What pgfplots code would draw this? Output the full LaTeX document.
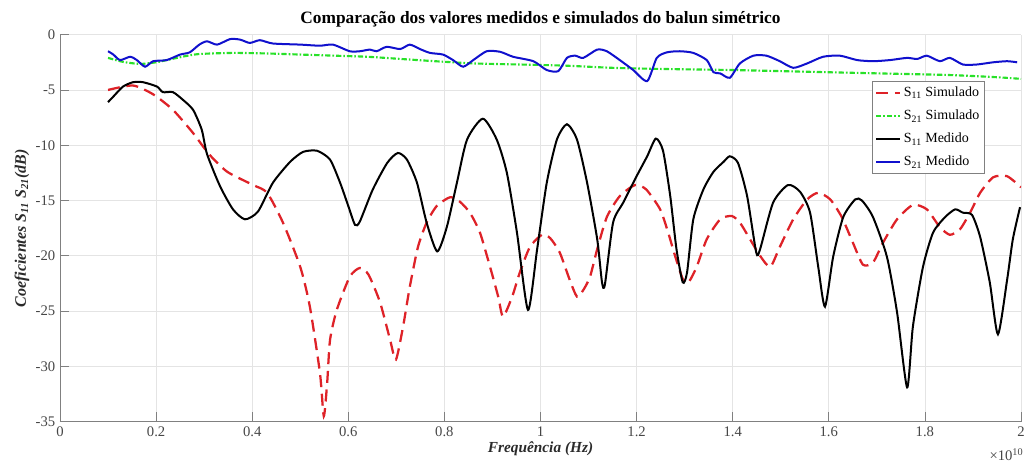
\documentclass[border=0pt]{standalone}
\usepackage{fontspec}
\setmainfont{Liberation Serif}
\usepackage{pgfplots}
\pgfplotsset{compat=1.18}
\definecolor{axgray}{RGB}{128,128,128}
\definecolor{txtgray}{RGB}{70,70,70}
\definecolor{gridgray}{RGB}{228,228,228}
\definecolor{simred}{RGB}{222,34,40}
\definecolor{simgreen}{RGB}{40,225,40}
\definecolor{medblue}{RGB}{16,16,205}

\begin{document}
\begin{tikzpicture}
\useasboundingbox (-45pt,-36pt) rectangle (725.25pt,316.25pt);
\begin{axis}[
  name=ax,
  scale only axis,
  width=720.75pt, height=290.25pt,
  xmin=0, xmax=2, ymin=-35, ymax=0,
  xtick={0,0.2,...,2.01}, ytick={-35,-30,...,0},
  axis lines*=left,
  axis line style={axgray, line width=0.6pt},
  tick style={axgray, line width=0.6pt},
  tick align=inside, major tick length=7pt,
  grid=major,
  grid style={gridgray, line width=0.5pt},
  /pgf/number format/assume math mode=true,
  ticklabel style={font=\fontsize{11}{13}\selectfont, text=txtgray},
  title={\textbf{Comparação dos valores medidos e simulados do balun simétrico}},
  title style={font=\fontsize{13}{15}\selectfont, yshift=-4pt},
  xlabel={\textbf{\textit{Frequência (Hz)}}},
  ylabel={\textbf{\textit{Coeficientes S\textsubscript{11} S\textsubscript{21}(dB)}}},
  xlabel style={font=\fontsize{11.5}{13}\selectfont, text=txtgray!60!black, yshift=3pt},
  ylabel style={font=\fontsize{12}{14}\selectfont, text=txtgray!60!black, yshift=-2pt},
  legend style={at={(rel axis cs:0.9625,0.879)}, anchor=north east,
    draw=axgray, fill=white, font=\fontsize{10.5}{12}\selectfont,
    inner sep=2pt, row sep=4.5pt},
  legend cell align=left,
  legend image code/.code={\draw[#1] (0pt,0pt) -- (18pt,0pt);},
  every axis plot/.append style={smooth, tension=0.4},
]
\addplot[simred, line width=1.7pt, dash pattern=on 9pt off 5pt] coordinates {
(0.1,-5.0)(0.152,-4.6)(0.194,-5.4)(0.235,-6.8)(0.277,-8.9)(0.31,-10.8)(0.348,-12.4)
(0.402,-13.6)(0.431,-14.3)(0.464,-17.0)(0.5,-21.0)(0.52,-24.6)(0.541,-30.6)(0.549,-34.5)
(0.556,-31.5)(0.562,-27.6)(0.576,-24.9)(0.603,-21.9)(0.624,-21.1)(0.642,-21.7)(0.666,-24.2)
(0.687,-27.6)(0.699,-29.4)(0.714,-26.4)(0.728,-22.8)(0.745,-19.2)(0.763,-17.0)(0.784,-15.5)
(0.812,-14.7)(0.832,-15.1)(0.853,-16.1)(0.874,-17.9)(0.895,-21.0)(0.912,-23.7)(0.922,-25.5)
(0.941,-23.7)(0.957,-21.5)(0.978,-19.2)(1.003,-18.1)(1.02,-18.4)(1.04,-19.7)(1.061,-22.2)
(1.076,-23.7)(1.089,-23.1)(1.103,-21.9)(1.118,-19.4)(1.138,-16.5)(1.165,-14.6)(1.197,-13.6)
(1.22,-14.0)(1.249,-15.8)(1.265,-17.8)(1.28,-20.0)(1.297,-22.2)(1.308,-22.4)(1.325,-21.0)
(1.346,-18.5)(1.374,-16.7)(1.398,-16.4)(1.415,-17.0)(1.436,-18.5)(1.457,-20.0)(1.478,-21.0)
(1.498,-19.2)(1.526,-16.7)(1.555,-14.9)(1.578,-14.3)(1.603,-14.9)(1.627,-16.5)(1.65,-18.8)
(1.671,-20.8)(1.692,-20.6)(1.713,-18.8)(1.742,-16.7)(1.775,-15.4)(1.804,-15.8)(1.831,-17.4)
(1.852,-18.1)(1.873,-17.6)(1.894,-16.1)(1.915,-14.3)(1.942,-12.9)(1.971,-12.8)(2.0,-13.8)
};
\addlegendentry{S\textsubscript{11} Simulado}
\addplot[simgreen, line width=1.6pt, dash pattern=on 4pt off 1.5pt on 1.2pt off 1.5pt] coordinates {
(0.1,-2.1)(0.13,-2.45)(0.166,-2.65)(0.2,-2.5)(0.222,-2.3)(0.26,-1.95)(0.29,-1.75)(0.36,-1.65)
(0.43,-1.7)(0.5,-1.8)(0.57,-1.9)(0.64,-2.0)(0.71,-2.2)(0.78,-2.4)(0.86,-2.6)(0.957,-2.7)
(1.05,-2.8)(1.15,-3.0)(1.25,-3.1)(1.4,-3.2)(1.55,-3.35)(1.7,-3.5)(1.85,-3.65)(1.95,-3.85)(2.0,-4.0)
};
\addlegendentry{S\textsubscript{21} Simulado}
\addplot[black, line width=1.5pt] coordinates {
(0.1,-6.1)(0.111,-5.6)(0.131,-4.7)(0.152,-4.3)(0.173,-4.3)(0.202,-4.7)(0.214,-5.2)(0.235,-5.2)
(0.256,-5.9)(0.277,-6.8)(0.295,-8.6)(0.306,-10.8)(0.333,-13.7)(0.36,-15.8)(0.385,-16.7)
(0.412,-16.0)(0.443,-13.4)(0.479,-11.5)(0.506,-10.6)(0.535,-10.5)(0.562,-11.3)(0.583,-13.4)
(0.6,-15.5)(0.614,-17.2)(0.624,-16.9)(0.651,-14.0)(0.681,-11.6)(0.703,-10.7)(0.722,-11.3)
(0.743,-13.4)(0.763,-17.0)(0.785,-19.6)(0.805,-17.4)(0.826,-13.4)(0.847,-9.5)(0.88,-7.6)
(0.909,-9.5)(0.93,-12.5)(0.951,-17.9)(0.974,-24.9)(0.993,-19.4)(1.013,-13.4)(1.034,-9.5)
(1.055,-8.1)(1.076,-9.5)(1.097,-13.4)(1.118,-18.5)(1.128,-22.4)(1.134,-22.6)(1.151,-17.0)
(1.172,-15.2)(1.2,-12.8)(1.222,-11.0)(1.24,-9.4)(1.255,-10.5)(1.27,-14.6)(1.283,-19.4)
(1.296,-22.4)(1.305,-21.5)(1.318,-16.7)(1.339,-14.0)(1.36,-12.4)(1.381,-11.5)(1.394,-11.0)
(1.411,-11.6)(1.43,-14.6)(1.449,-19.7)(1.457,-19.4)(1.484,-15.2)(1.515,-13.6)(1.54,-14.2)
(1.561,-16.1)(1.578,-21.0)(1.592,-24.6)(1.609,-20.1)(1.63,-16.5)(1.655,-14.9)(1.669,-15.0)
(1.692,-16.5)(1.721,-20.1)(1.742,-25.1)(1.763,-31.9)(1.775,-26.4)(1.796,-21.0)(1.817,-17.9)
(1.842,-16.5)(1.863,-15.8)(1.879,-16.1)(1.898,-16.3)(1.915,-18.3)(1.935,-22.4)(1.952,-27.1)
(1.971,-22.2)(1.983,-18.5)(1.998,-15.6)
};
\addlegendentry{S\textsubscript{11} Medido}
\addplot[medblue, line width=1.5pt] coordinates {
(0.1,-1.5)(0.111,-1.8)(0.125,-2.3)(0.146,-2.0)(0.16,-2.3)(0.177,-2.9)(0.194,-2.4)(0.222,-2.3)
(0.25,-1.8)(0.27,-1.6)(0.29,-0.9)(0.306,-0.6)(0.327,-0.9)(0.354,-0.4)(0.375,-0.45)(0.395,-0.75)
(0.416,-0.5)(0.443,-0.8)(0.5,-0.9)(0.541,-1.0)(0.568,-0.9)(0.603,-1.5)(0.624,-1.5)(0.645,-1.35)
(0.659,-1.5)(0.68,-1.1)(0.708,-1.3)(0.728,-0.9)(0.749,-1.3)(0.77,-1.65)(0.797,-1.8)(0.818,-2.3)
(0.839,-2.9)(0.86,-2.3)(0.888,-1.5)(0.916,-1.55)(0.943,-2.0)(0.985,-2.4)(1.013,-3.2)(1.037,-3.3)
(1.055,-2.1)(1.072,-1.9)(1.089,-2.1)(1.118,-1.35)(1.138,-1.5)(1.165,-2.3)(1.193,-3.2)(1.222,-4.2)
(1.242,-2.1)(1.263,-1.6)(1.29,-1.5)(1.318,-1.65)(1.346,-2.3)(1.36,-3.4)(1.374,-3.5)(1.394,-3.9)
(1.415,-2.6)(1.443,-1.9)(1.47,-1.9)(1.498,-2.4)(1.526,-3.0)(1.555,-2.6)(1.588,-2.0)(1.623,-1.9)
(1.659,-2.3)(1.692,-2.4)(1.727,-2.3)(1.763,-2.1)(1.784,-2.2)(1.804,-1.9)(1.831,-2.4)(1.852,-2.1)
(1.879,-2.7)(1.908,-2.7)(1.942,-2.5)(1.971,-2.4)(1.992,-2.5)
};
\addlegendentry{S\textsubscript{21} Medido}
\end{axis}
\node[anchor=north east, font=\fontsize{11}{13}\selectfont, text=txtgray, inner sep=0pt]
  at ([xshift=2pt,yshift=-20pt]ax.south east) {×10\textsuperscript{10}};
\end{tikzpicture}
\end{document}
